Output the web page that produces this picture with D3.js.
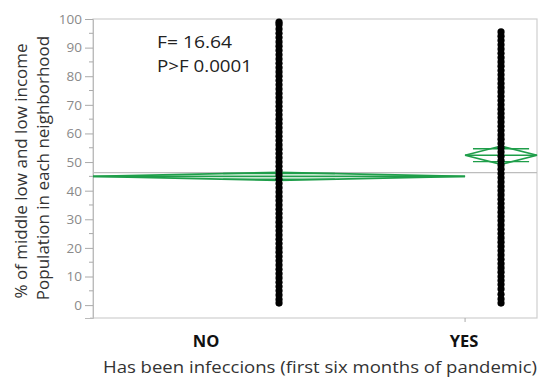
<!DOCTYPE html>
<html><head><meta charset="utf-8">
<script src="https://cdn.jsdelivr.net/npm/d3@7"></script>
<style>body{margin:0;background:#fff}svg{display:block}</style>
</head><body>
<svg id="c" width="550" height="389"></svg>
<script>
// ---- data ----
const groups = ["NO", "YES"];
const groupCounts = [838, 162];
const groupMeans = [45.0, 52.4];
const groupCIHalf = [1.4, 3.2];
const grandMean = 46.3;
const yTicks = [0, 10, 20, 30, 40, 50, 60, 70, 80, 90, 100];
const valuesNO = [0.7,2,3.5,5,6.5,8,9.5,11,12.5,14,15.5,17,18.5,20,21.5,23,24.5,26,27.5,29,30.5,32,33.5,35,36.5,38,39.5,41,42.5,44,45.5,47,48.5,50,51.5,53,54.5,56,57.5,59,60.5,62,63.5,65,66.5,68,69.5,71,72.5,74,75.5,77,78.5,80,81.5,83,84.5,86,87.5,89,90.5,92,93.5,95,96.5,98,98.9];
const valuesYES = [0.7,2.1,3.8,5.6,7.2,8.6,10,11.5,13,14.5,16,17.5,19,20.5,22,23.5,25,26.5,28,29.5,31,32.5,34,35.5,37,38.5,40,41.5,43,44.5,46,47.5,49,50.5,52,53.5,55,56.5,58,59.5,61,62.5,64,65.5,67,68.5,70,71.5,73,74.5,76,77.5,79,80.5,82,83.5,85,86.5,88,89.5,91,92.5,94,95.5];
const fStat = "F= 16.64";
const pStat = "P>F 0.0001";
const xTitle = "Has been infeccions (first six months of pandemic)";
const yTitle1 = "% of middle low and low income";
const yTitle2 = "Population in each neighborhood";

// ---- layout / style ----
const L = 93, R = 537, T = 19, B = 318;
const markSpan = [0.3, 0.78];
const catLabelX = [206, 464];
const green = "#1f9e4a";
const font = "'Open Sans', sans-serif";

const svg = d3.select("#c");
const y = d3.scaleLinear().domain([-4.5, 100]).range([B, T]);
const total = d3.sum(groupCounts);
const cum = d3.cumsum([0, ...groupCounts]);
const x = d3.scaleLinear().domain([0, total]).range([L, R]);
const gx0 = i => x(cum[i]), gx1 = i => x(cum[i + 1]), gxc = i => (gx0(i) + gx1(i)) / 2;

// frame
svg.append("rect").attr("x", L).attr("y", T).attr("width", R - L).attr("height", B - T)
  .attr("fill", "none").attr("stroke", "#cfcfcf").attr("stroke-width", 1.2);
svg.append("line").attr("x1", L - 3).attr("x2", L).attr("y1", B).attr("y2", B)
  .attr("stroke", "#cfcfcf").attr("stroke-width", 1.2);

// y axis
const yAxis = d3.axisLeft(y).tickValues(yTicks).tickSize(8).tickPadding(3);
const ga = svg.append("g").attr("transform", `translate(${L},0)`).call(yAxis);
ga.select(".domain").attr("stroke", "#bbb");
ga.selectAll(".tick line").attr("stroke", "#aaa");
ga.selectAll(".tick text").attr("fill", "#8a8a8a").attr("font-family", font).attr("font-size", 13.5);
// minor ticks
const minor = yTicks.slice(0, -1).map(v => v + 5);
svg.append("g").selectAll("line").data(minor).join("line")
  .attr("x1", L - 4).attr("x2", L).attr("y1", d => y(d)).attr("y2", d => y(d))
  .attr("stroke", "#aaa");

// group boundary tick
svg.append("line").attr("x1", gx1(0)).attr("x2", gx1(0)).attr("y1", B).attr("y2", B + 4).attr("stroke", "#aaa");

// grand mean
svg.append("line").attr("x1", L).attr("x2", R).attr("y1", y(grandMean)).attr("y2", y(grandMean))
  .attr("stroke", "#bdbdbd").attr("stroke-width", 1.2);

// means diamonds
groups.forEach((g, i) => {
  const x0 = gx0(i), x1 = gx1(i), xc = gxc(i);
  const m = groupMeans[i], h = groupCIHalf[i];
  svg.append("path")
    .attr("d", `M${x0},${y(m)}L${xc},${y(m + h)}L${x1},${y(m)}L${xc},${y(m - h)}Z`)
    .attr("fill", "none").attr("stroke", green).attr("stroke-width", 1.6);
  svg.append("line").attr("x1", x0).attr("x2", x1).attr("y1", y(m)).attr("y2", y(m))
    .attr("stroke", green).attr("stroke-width", 1.6);
  const w = (x1 - x0) * markSpan[i];
  [1, -1].forEach(s => {
    svg.append("line").attr("x1", xc - w / 2).attr("x2", xc + w / 2)
      .attr("y1", y(m + s * h * Math.SQRT1_2)).attr("y2", y(m + s * h * Math.SQRT1_2))
      .attr("stroke", green).attr("stroke-width", 1.4);
  });
});

// points
[valuesNO, valuesYES].forEach((vals, i) => {
  svg.append("g").selectAll("circle").data(vals).join("circle")
    .attr("cx", gxc(i)).attr("cy", d => y(d)).attr("r", 3.6).attr("fill", "#000");
});

// stats text
svg.append("text").attr("x", 157).attr("y", 48).text(fStat)
  .attr("font-family", font).attr("font-size", 16.5).attr("fill", "#222")
  .attr("textLength", 75).attr("lengthAdjust", "spacingAndGlyphs");
svg.append("text").attr("x", 157).attr("y", 72).text(pStat)
  .attr("font-family", font).attr("font-size", 16.5).attr("fill", "#222")
  .attr("textLength", 95).attr("lengthAdjust", "spacingAndGlyphs");

// x category labels
groups.forEach((g, i) => {
  svg.append("text").attr("x", catLabelX[i]).attr("y", 347).attr("text-anchor", "middle")
    .attr("font-family", font).attr("font-weight", "bold").attr("font-size", 16.5).attr("fill", "#111").text(g);
});

// axis titles
svg.append("text").attr("x", 103).attr("y", 373)
  .attr("font-family", font).attr("font-size", 17).attr("fill", "#333")
  .attr("textLength", 434).attr("lengthAdjust", "spacingAndGlyphs").text(xTitle);
svg.append("text").attr("transform", "translate(27,171) rotate(-90)").attr("text-anchor", "middle")
  .attr("font-family", font).attr("font-size", 17).attr("fill", "#333").text(yTitle1);
svg.append("text").attr("transform", "translate(49,168) rotate(-90)").attr("text-anchor", "middle")
  .attr("font-family", font).attr("font-size", 17).attr("fill", "#333").text(yTitle2);
</script>
</body></html>
